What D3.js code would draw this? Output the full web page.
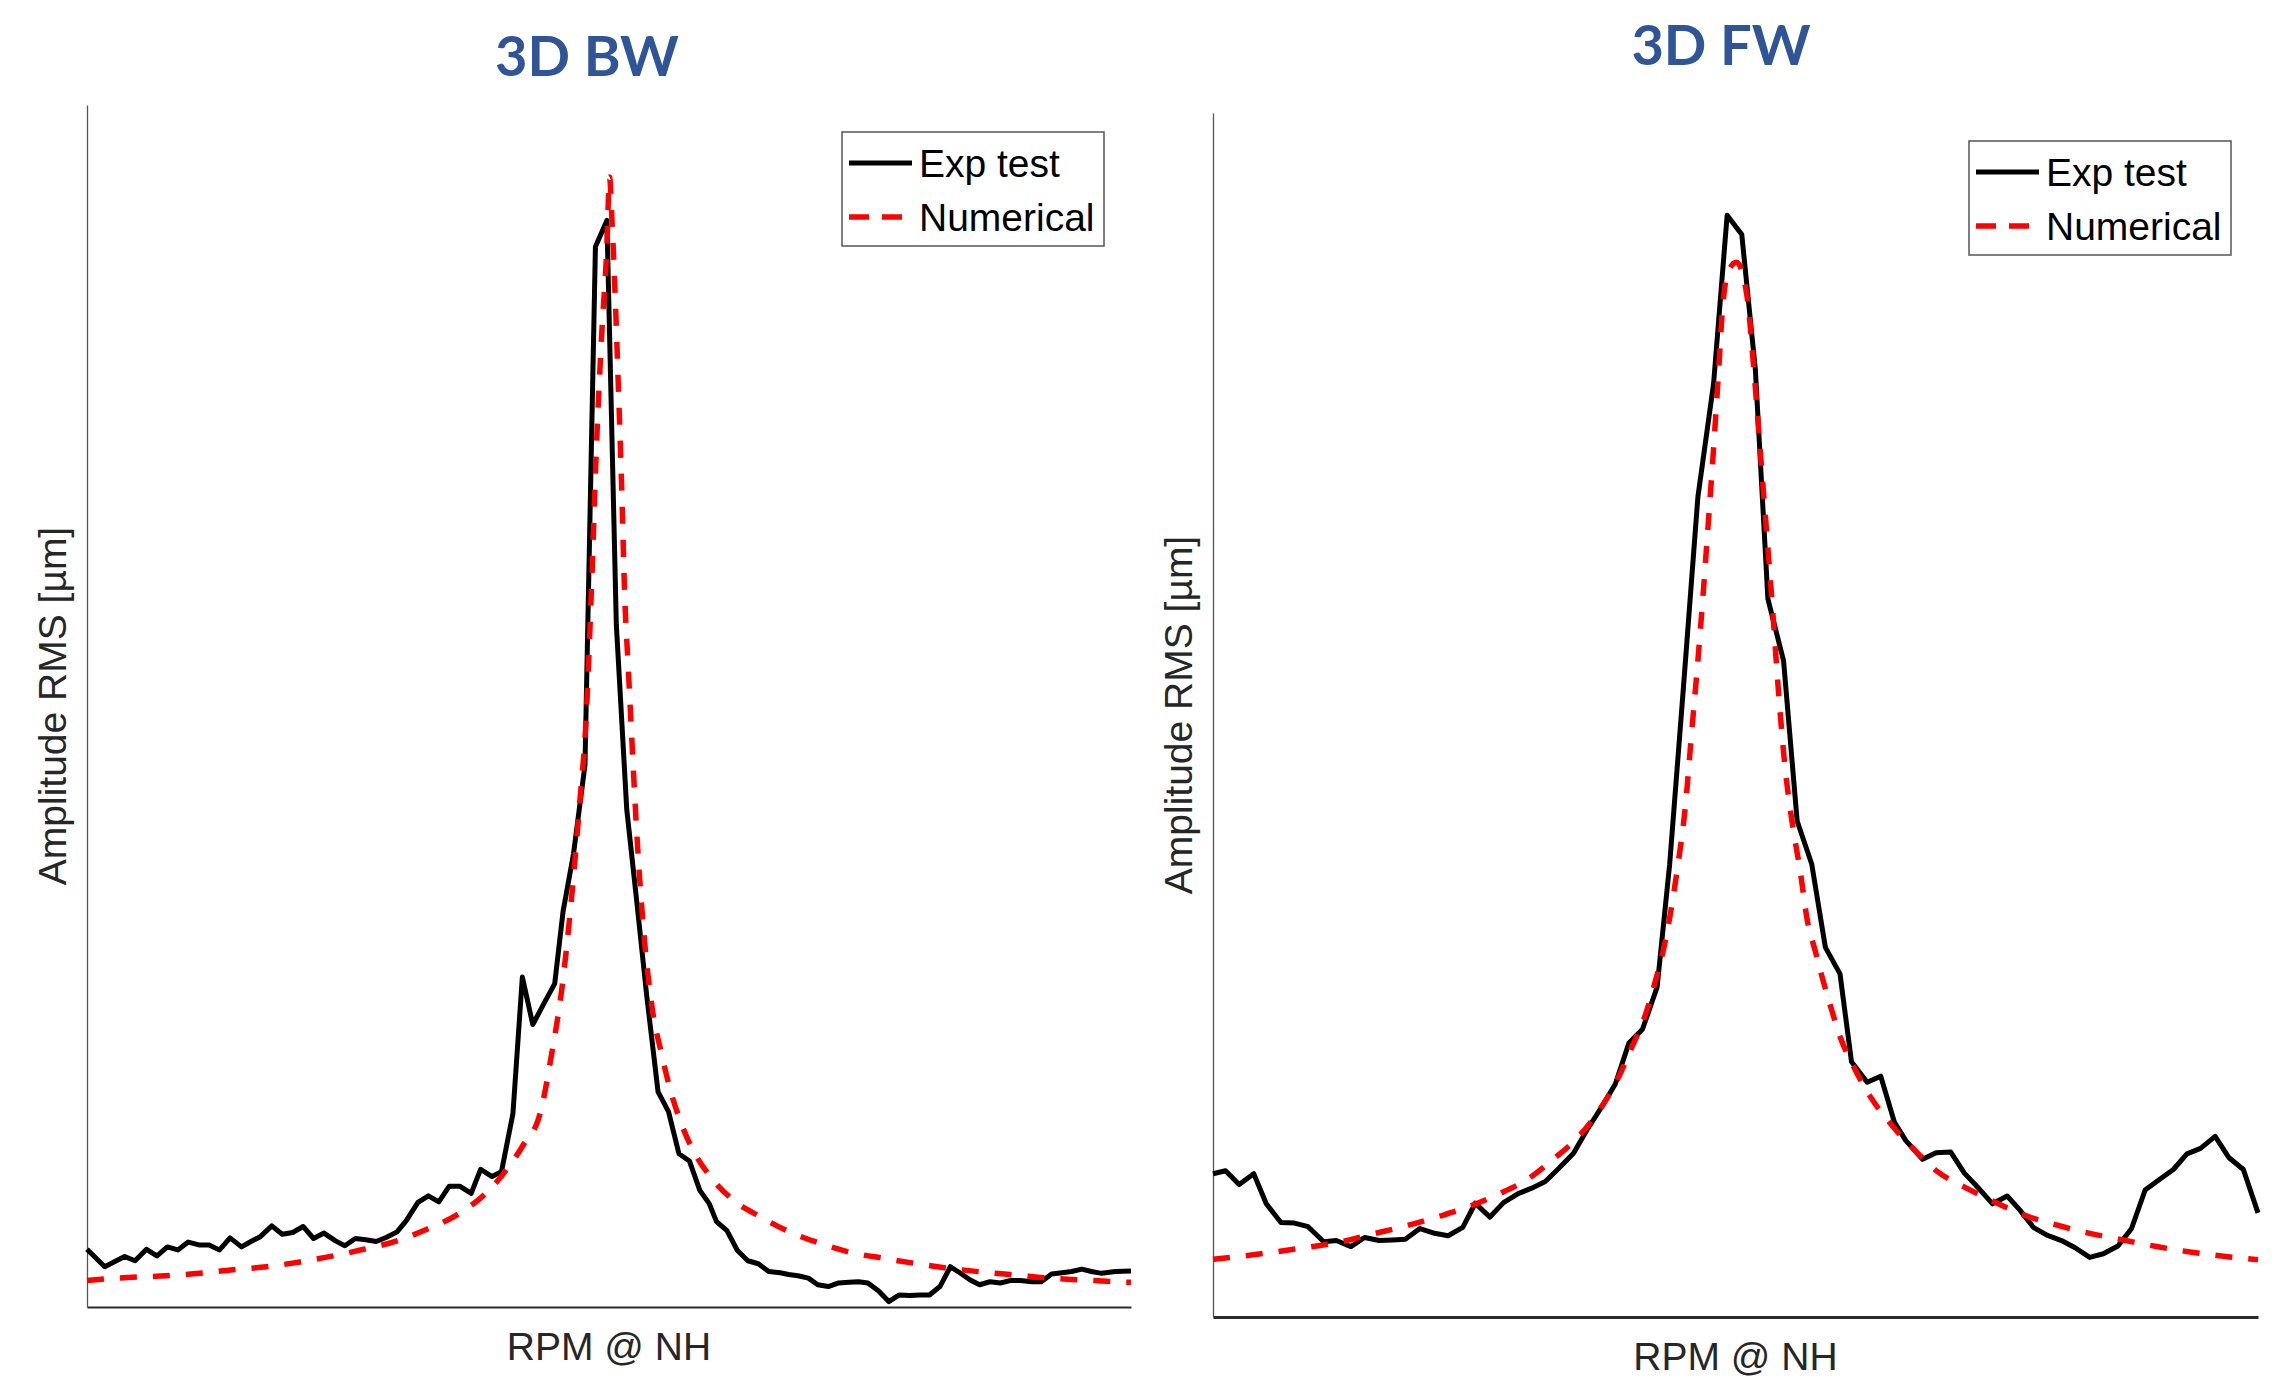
<!DOCTYPE html>
<html>
<head>
<meta charset="utf-8">
<script src="https://cdn.jsdelivr.net/npm/d3@7"></script>
<style>
    body { margin: 0; background: #fff; }
    .title { font-family: Lato, "Open Sans", sans-serif; font-weight: 700; fill: #2f5597; }
    .label { font-family: "Liberation Sans", Arial, sans-serif; fill: #262626; }
    .legend text { font-family: "Liberation Sans", Arial, sans-serif; fill: #000; }
</style>
</head>
<body>
<div class="widget"></div>
<script>
var titles = ["3D BW", "3D FW"];
var legendLabels = ["Exp test", "Numerical"];
var xLabel = "RPM @ NH";
var yLabel = "Amplitude RMS [µm]";

// 3D BW - measured
var bwExpRpm = [0, 1.7, 3.6, 4.6, 5.7, 6.7, 7.7, 8.7, 9.7, 10.8, 11.7, 12.7, 13.7, 14.8, 15.7, 16.6, 17.7, 18.7, 19.7, 20.7,
    21.7, 22.7, 23.8, 24.7, 25.7, 26.7, 27.7, 28.7, 29.7, 30.6, 31.7, 32.7, 33.7, 34.7, 35.7, 36.8, 37.7, 38.8, 39.7, 40.8,
    41.7, 42.7, 43.8, 44.8, 45.6, 46.6, 47.7, 48.7, 49.8, 50.7, 51.7, 52.7, 53.6, 54.7, 55.7, 56.7, 57.7, 58.7, 59.6, 60.3,
    61.3, 62.3, 63.3, 64.3, 65.3, 66.4, 67.2, 68.1, 69.1, 70.0, 71.0, 72.0, 73.0, 73.9, 74.8, 75.8, 76.8, 77.8, 78.8, 79.8,
    80.7, 81.7, 82.7, 83.6, 84.6, 85.5, 86.5, 87.5, 88.4, 89.4, 90.5, 91.4, 92.4, 93.4, 94.3, 95.3, 96.2, 97.2, 98.5, 100];
var bwExp = [4.8, 3.35, 4.2, 3.85, 4.8, 4.25, 5.0, 4.75, 5.4, 5.15, 5.15, 4.75, 5.75, 5.0, 5.45, 5.85, 6.75, 6.05, 6.2, 6.7,
    5.7, 6.15, 5.5, 5.1, 5.7, 5.6, 5.45, 5.8, 6.25, 7.2, 8.7, 9.25, 8.75, 10.05, 10.05, 9.45, 11.45, 10.85, 11.25, 16.1,
    27.45, 23.5, 25.3, 26.9, 32.9, 37.7, 45.1, 88.2, 90.4, 56.8, 41.4, 33.4, 26.0, 17.9, 16.25, 12.75, 12.15, 9.7, 8.6, 7.1,
    6.35, 4.7, 3.85, 3.6, 2.95, 2.85, 2.7, 2.6, 2.4, 1.85, 1.7, 2.0, 2.05, 2.1, 2.0, 1.35, 0.45, 1.0, 0.95, 1.0,
    1.0, 1.7, 3.35, 2.85, 2.25, 1.85, 2.1, 2.0, 2.2, 2.2, 2.1, 2.1, 2.75, 2.85, 2.95, 3.15, 2.95, 2.8, 2.95, 3.0];

// 3D BW - numerical
var bwNumRpm = [0, 2.8, 7.6, 10.8, 14.0, 17.2, 20.4, 23.6, 26.5, 29.7, 32.5, 35.4, 38.0, 39.9, 41.8, 43.4, 44.5, 45.5, 46.4, 47.2,
    47.8, 48.3, 48.8, 49.3, 49.8, 50.05, 50.3, 50.6, 50.9, 51.2, 51.5, 51.85, 52.2, 52.65, 53.3, 54.1, 55.05, 55.8, 56.8, 57.9,
    59.7, 61.9, 64.5, 67.3, 70.2, 73.1, 76.3, 79.5, 82.7, 85.9, 89.1, 92.2, 95.4, 98.5, 100];
var bwNum = [2.2, 2.4, 2.6, 2.8, 3.1, 3.35, 3.75, 4.25, 4.8, 5.5, 6.45, 7.65, 9.3, 11.1, 13.5, 16.1, 21.0, 26.6, 33.9, 42.0,
    48.8, 59.3, 71.6, 80.9, 88.3, 94.0, 90.1, 83.9, 76.5, 68.6, 59.3, 53.1, 47.0, 39.6, 31.5, 25.1, 21.0, 18.3, 15.55, 13.3,
    10.85, 8.9, 7.5, 6.25, 5.3, 4.55, 4.05, 3.6, 3.2, 2.9, 2.65, 2.4, 2.25, 2.1, 2.05];

// 3D FW - measured
var fwExpRpm = [0, 1.2, 2.5, 3.9, 5.1, 6.5, 7.8, 9.1, 10.6, 11.8, 13.2, 14.5, 15.9, 17.2, 18.4, 19.8, 21.2, 22.5, 23.9, 25.1,
    26.5, 27.8, 29.2, 30.5, 31.8, 33.1, 34.5, 35.8, 37.2, 38.5, 39.8, 41.1, 42.5, 43.7, 45.0, 46.4, 47.9, 49.2, 50.6, 51.9,
    53.1, 54.6, 55.9, 57.3, 58.6, 60.0, 61.1, 62.6, 63.9, 65.2, 66.3, 67.9, 69.2, 70.6, 71.9, 73.2, 74.6, 76.0, 77.2, 78.5,
    79.8, 81.2, 82.5, 83.9, 85.2, 86.6, 87.9, 89.2, 90.6, 91.9, 93.2, 94.5, 95.9, 97.2, 98.6, 100];
var fwExp = [11.9, 12.15, 11.0, 11.9, 9.4, 7.85, 7.8, 7.5, 6.25, 6.35, 5.85, 6.6, 6.35, 6.4, 6.45, 7.35, 6.95, 6.75, 7.45, 9.45,
    8.3, 9.5, 10.25, 10.7, 11.25, 12.35, 13.6, 15.55, 17.45, 19.35, 22.75, 23.9, 27.4, 37.6, 52.1, 68.1, 77.5, 91.5, 89.9, 78.7,
    59.65, 54.5, 41.2, 37.6, 30.7, 28.5, 21.2, 19.5, 20.0, 16.2, 14.65, 13.1, 13.65, 13.7, 11.95, 10.75, 9.4, 10.05, 8.9, 7.45,
    6.8, 6.35, 5.75, 4.95, 5.25, 5.9, 7.35, 10.55, 11.45, 12.25, 13.55, 14.0, 15.0, 13.25, 12.25, 8.65];

// 3D FW - numerical
var fwNumRpm = [0, 2.7, 5.9, 9.1, 12.3, 15.3, 18.4, 21.6, 24.6, 27.3, 30.2, 32.7, 35.0, 36.9, 38.6, 40.1, 41.3, 42.2, 43.3, 44.4,
    45.2, 45.8, 46.4, 46.9, 47.4, 47.9, 48.35, 48.8, 49.4, 50.1, 51.1, 51.7, 52.3, 52.8, 53.5, 54.1, 54.7, 55.4, 56.2, 56.9,
    57.6, 58.3, 59.1, 60.0, 61.3, 62.9, 64.8, 67.0, 69.3, 72.1, 74.7, 77.5, 80.7, 83.9, 87.1, 90.3, 93.5, 96.7, 100];
var fwNum = [4.8, 5.05, 5.4, 5.8, 6.25, 6.9, 7.55, 8.35, 9.2, 10.2, 11.5, 13.2, 15.0, 17.1, 19.55, 22.45, 24.9, 27.5, 31.3, 37.0,
    42.4, 48.5, 54.5, 60.0, 66.0, 72.1, 78.1, 84.2, 87.0, 87.6, 84.8, 79.3, 72.7, 67.2, 59.35, 52.1, 46.0, 41.2, 37.0, 32.8,
    30.5, 28.2, 25.8, 23.3, 20.8, 18.3, 16.1, 14.0, 12.1, 10.7, 9.6, 8.5, 7.65, 6.95, 6.4, 5.85, 5.4, 5.05, 4.75];

var svg = d3.select(".widget").append("svg")
    .attr("width", 2286)
    .attr("height", 1384);

var panels = [
    {title: titles[0], left: 87, right: 1131, top: 105, bottom: 1307, titleX: 587, titleY: 76, bottomWidth: 2,
        legendX: 842, legendY: 132,
        exp: {x: bwExpRpm, y: bwExp}, num: {x: bwNumRpm, y: bwNum}},
    {title: titles[1], left: 1213, right: 2258, top: 113, bottom: 1317, titleX: 1721, titleY: 65, bottomWidth: 3,
        legendX: 1969, legendY: 141,
        exp: {x: fwExpRpm, y: fwExp}, num: {x: fwNumRpm, y: fwNum}}
];

panels.forEach(draw);

function zip(s) {
    return s.x.map(function(v, i) { return {rpm: v, amp: s.y[i]}; });
}

function draw(p) {
    var x = d3.scaleLinear().domain([0, 100]).range([p.left, p.right]);
    var y = d3.scaleLinear().domain([0, 100]).range([p.bottom, p.top]);

    var g = svg.append("g");

    var xAxis = d3.axisBottom(x).ticks(0).tickSizeOuter(0);
    var yAxis = d3.axisLeft(y).ticks(0).tickSizeOuter(0);

    g.append("g")
        .attr("transform", "translate(0," + p.bottom + ")")
        .call(xAxis)
        .select(".domain")
        .attr("stroke", "#2b2b2b")
        .attr("stroke-width", p.bottomWidth);

    g.append("g")
        .attr("transform", "translate(" + p.left + ",0)")
        .call(yAxis)
        .select(".domain")
        .attr("stroke", "#555")
        .attr("stroke-width", 1.3);

    var expLine = d3.line()
        .x(function(d) { return x(d.rpm); })
        .y(function(d) { return y(d.amp); });

    var numLine = d3.line()
        .curve(d3.curveMonotoneX)
        .x(function(d) { return x(d.rpm); })
        .y(function(d) { return y(d.amp); });

    g.append("path")
        .datum(zip(p.exp))
        .attr("fill", "none")
        .attr("stroke", "#000")
        .attr("stroke-width", 5)
        .attr("stroke-linejoin", "round")
        .attr("d", expLine);

    g.append("path")
        .datum(zip(p.num))
        .attr("fill", "none")
        .attr("stroke", "#ff0000")
        .attr("stroke-width", 5.5)
        .attr("stroke-dasharray", "17,16")
        .attr("d", numLine);

    // titles and labels
    g.append("text")
        .attr("class", "title")
        .attr("x", p.titleX)
        .attr("y", p.titleY)
        .attr("text-anchor", "middle")
        .style("font-size", "56px")
        .text(p.title);

    g.append("text")
        .attr("class", "label")
        .attr("x", (p.left + p.right) / 2)
        .attr("y", p.bottom + 53)
        .attr("text-anchor", "middle")
        .style("font-size", "39px")
        .text(xLabel);

    g.append("text")
        .attr("class", "label")
        .attr("transform", "translate(" + (p.left - 21) + "," + ((p.top + p.bottom) / 2) + ") rotate(-90)")
        .attr("text-anchor", "middle")
        .style("font-size", "39px")
        .text(yLabel);

    // legend
    var lg = g.append("g")
        .attr("class", "legend")
        .attr("transform", "translate(" + p.legendX + "," + p.legendY + ")");

    lg.append("rect")
        .attr("width", 262)
        .attr("height", 114)
        .attr("fill", "#fff")
        .attr("stroke", "#555")
        .attr("stroke-width", 1.5);

    lg.append("line")
        .attr("x1", 7).attr("x2", 70)
        .attr("y1", 31).attr("y2", 31)
        .attr("stroke", "#000")
        .attr("stroke-width", 5);

    lg.append("line")
        .attr("x1", 7).attr("x2", 64)
        .attr("y1", 85).attr("y2", 85)
        .attr("stroke", "#ff0000")
        .attr("stroke-width", 5.5)
        .attr("stroke-dasharray", "20,13");

    lg.selectAll("text.entry")
        .data(legendLabels)
        .enter().append("text")
        .attr("class", "entry")
        .attr("x", 77)
        .attr("y", function(d, i) { return 45 + i * 54; })
        .style("font-size", "39px")
        .text(function(d) { return d; });
}
</script>
</body>
</html>
